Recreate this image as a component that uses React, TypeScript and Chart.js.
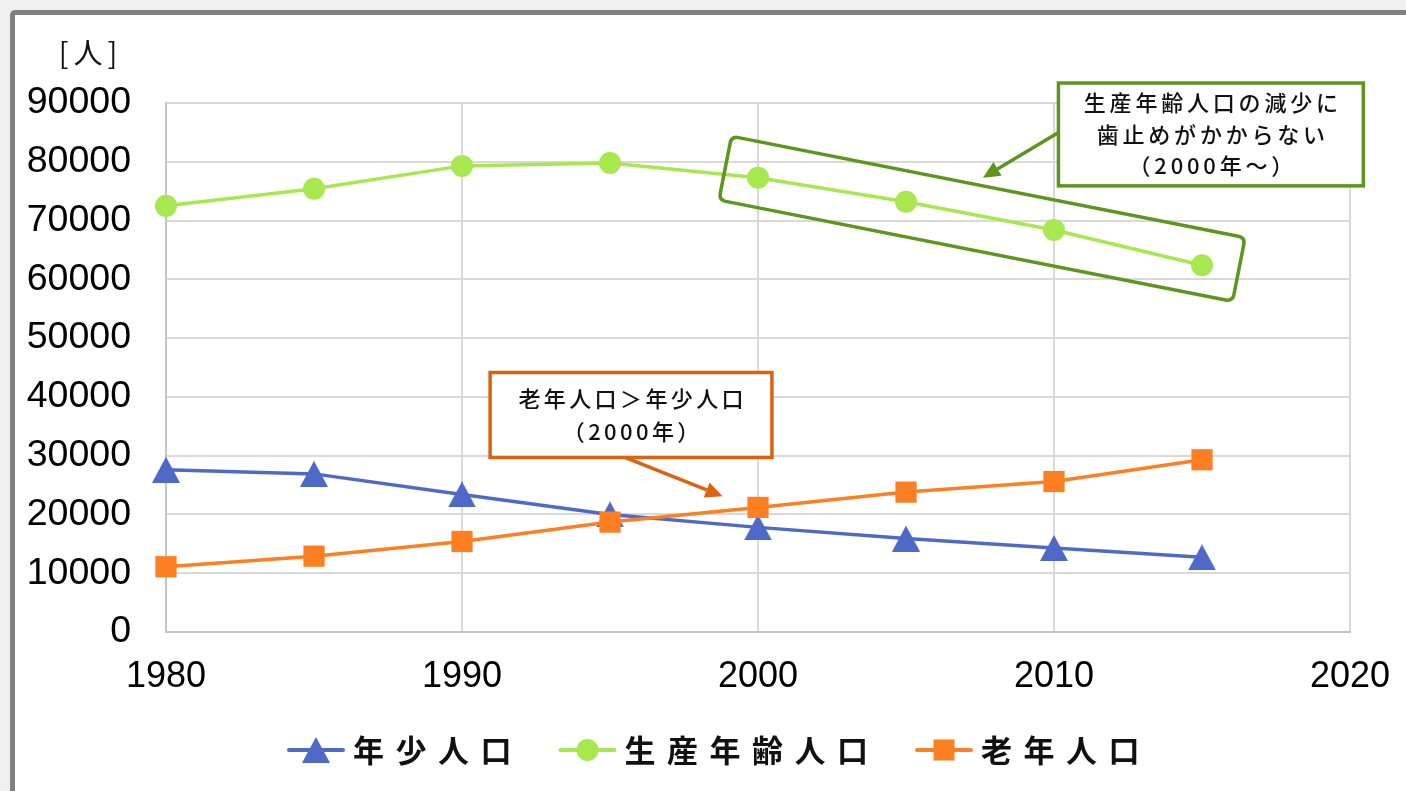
import React, { useEffect, useRef } from "react";
import { Chart, registerables } from "chart.js";
Chart.register(...registerables);

const years = [1980, 1985, 1990, 1995, 2000, 2005, 2010, 2015];
const youth = [27600, 26900, 23400, 20000, 17800, 15900, 14300, 12700];
const working = [72500, 75400, 79300, 79800, 77300, 73200, 68400, 62400];
const elderly = [11100, 12900, 15400, 18700, 21200, 23800, 25600, 29300];
const seriesNames = ["年少人口", "生産年齢人口", "老年人口"];
const seriesColors = ["#4f69c9", "#a7e84f", "#fd7f21"];
const xMin = 1980;
const xMax = 2020;
const xStep = 10;
const yMin = 0;
const yMax = 90000;
const yStep = 10000;
const yUnit = "[人]";
const noteGreen = ["生産年齢人口の減少に", "歯止めがかからない", "（2000年～）"];
const noteOrange = ["老年人口＞年少人口", "（2000年）"];
// annotation anchors in data space
const greenBox = { x0: 2010.15, x1: 2020.45, y0: 93400, y1: 75900 };
const greenArrow = { x0: 2010.15, y0: 85000, x1: 2007.6, y1: 77300 };
const orangeBox = { x0: 1990.95, x1: 2000.47, y0: 44150, y1: 29700 };
const orangeArrow = { x0: 1995.5, y0: 29700, x1: 1998.8, y1: 23100 };
const highlightFrom = 2000;

const GREEN_NOTE = "#5e961c";
const ORANGE_NOTE = "#dd6210";
const JP = '"Noto Sans CJK JP", "Noto Sans", sans-serif';
const NUM = '"Liberation Sans", Arial, sans-serif';

function makeTriangle(color: string, w: number, h: number) {
  const c = document.createElement("canvas");
  c.width = w;
  c.height = h;
  const g = c.getContext("2d")!;
  g.fillStyle = color;
  g.beginPath();
  g.moveTo(w / 2, 0);
  g.lineTo(w, h);
  g.lineTo(0, h);
  g.closePath();
  g.fill();
  return c;
}

function roundRectPath(ctx: CanvasRenderingContext2D, x: number, y: number, w: number, h: number, r: number) {
  ctx.beginPath();
  ctx.moveTo(x + r, y);
  ctx.lineTo(x + w - r, y);
  ctx.quadraticCurveTo(x + w, y, x + w, y + r);
  ctx.lineTo(x + w, y + h - r);
  ctx.quadraticCurveTo(x + w, y + h, x + w - r, y + h);
  ctx.lineTo(x + r, y + h);
  ctx.quadraticCurveTo(x, y + h, x, y + h - r);
  ctx.lineTo(x, y + r);
  ctx.quadraticCurveTo(x, y, x + r, y);
  ctx.closePath();
}

function arrow(ctx: CanvasRenderingContext2D, x0: number, y0: number, x1: number, y1: number, color: string) {
  const ang = Math.atan2(y1 - y0, x1 - x0);
  const hl = 17, hw = 8;
  const bx = x1 - Math.cos(ang) * hl, by = y1 - Math.sin(ang) * hl;
  ctx.strokeStyle = color;
  ctx.fillStyle = color;
  ctx.lineWidth = 3.5;
  ctx.beginPath();
  ctx.moveTo(x0, y0);
  ctx.lineTo(bx, by);
  ctx.stroke();
  ctx.beginPath();
  ctx.moveTo(x1, y1);
  ctx.lineTo(bx + Math.sin(ang) * hw, by - Math.cos(ang) * hw);
  ctx.lineTo(bx - Math.sin(ang) * hw, by + Math.cos(ang) * hw);
  ctx.closePath();
  ctx.fill();
}

function spacedText(ctx: CanvasRenderingContext2D, text: string, cx: number, cy: number, spacing: number) {
  (ctx as any).letterSpacing = spacing + "px";
  const w = ctx.measureText(text).width;
  ctx.textAlign = "left";
  ctx.textBaseline = "middle";
  ctx.fillText(text, cx - (w - spacing) / 2, cy);
  (ctx as any).letterSpacing = "0px";
}

export default function App() {
  const ref = useRef<HTMLCanvasElement>(null);
  useEffect(() => {
    const tri = makeTriangle(seriesColors[0], 28, 26);
    const styles: any[] = [tri, "circle", "rect"];
    const radii = [14, 11, 15];

    const annotPlugin = {
      id: "annot",
      afterDatasetsDraw(chart: any) {
        const { ctx, scales } = chart;
        const px = (v: number) => scales.x.getPixelForValue(v);
        const py = (v: number) => scales.y.getPixelForValue(v);
        ctx.save();
        // rotated highlight frame around working-age 2000..2015
        const i0 = years.indexOf(highlightFrom);
        const i1 = years.length - 1;
        const ax = px(years[i0]), ay = py(working[i0]);
        const bx = px(years[i1]), by = py(working[i1]);
        const len = Math.hypot(bx - ax, by - ay);
        const ang = Math.atan2(by - ay, bx - ax);
        ctx.save();
        ctx.translate(ax, ay);
        ctx.rotate(ang);
        roundRectPath(ctx, -34, -35.5, len + 34 + 37, 65, 7);
        ctx.strokeStyle = GREEN_NOTE;
        ctx.lineWidth = 3.5;
        ctx.stroke();
        ctx.restore();

        // green callout
        arrow(ctx, px(greenArrow.x0), py(greenArrow.y0), px(greenArrow.x1), py(greenArrow.y1), GREEN_NOTE);
        {
          const x0 = px(greenBox.x0), x1 = px(greenBox.x1), y0 = py(greenBox.y0), y1 = py(greenBox.y1);
          ctx.fillStyle = "#ffffff";
          ctx.fillRect(x0, y0, x1 - x0, y1 - y0);
          ctx.strokeStyle = GREEN_NOTE;
          ctx.lineWidth = 3.5;
          ctx.strokeRect(x0, y0, x1 - x0, y1 - y0);
          ctx.fillStyle = "#111";
          ctx.font = `500 22px ${JP}`;
          const cx = (x0 + x1) / 2, cy = (y0 + y1) / 2;
          const lh = 31.5;
          noteGreen.forEach((t, i) => spacedText(ctx, t, cx, cy + (i - (noteGreen.length - 1) / 2) * lh, 3.8));
        }
        // orange callout
        arrow(ctx, px(orangeArrow.x0), py(orangeArrow.y0), px(orangeArrow.x1), py(orangeArrow.y1), ORANGE_NOTE);
        {
          const x0 = px(orangeBox.x0), x1 = px(orangeBox.x1), y0 = py(orangeBox.y0), y1 = py(orangeBox.y1);
          ctx.fillStyle = "#ffffff";
          ctx.fillRect(x0, y0, x1 - x0, y1 - y0);
          ctx.strokeStyle = ORANGE_NOTE;
          ctx.lineWidth = 3.5;
          ctx.strokeRect(x0, y0, x1 - x0, y1 - y0);
          ctx.fillStyle = "#111";
          ctx.font = `500 22px ${JP}`;
          const cx = (x0 + x1) / 2, cy = (y0 + y1) / 2;
          const lh = 33;
          noteOrange.forEach((t, i) => spacedText(ctx, t, cx, cy + (i - (noteOrange.length - 1) / 2) * lh, 3.4));
        }
        ctx.restore();
      },
      afterDraw(chart: any) {
        const { ctx, chartArea } = chart;
        ctx.save();
        // y unit label
        ctx.fillStyle = "#111";
        ctx.font = `400 29px ${JP}`;
        spacedText(ctx, yUnit, chartArea.left - 78, chartArea.top - 50, 5);
        // legend
        const ly = 750;
        let x = 289;
        const lineW = 54;
        ctx.font = `700 31px ${JP}`;
        seriesNames.forEach((name, i) => {
          ctx.strokeStyle = seriesColors[i];
          ctx.lineWidth = 4;
          ctx.lineCap = "round";
          ctx.beginPath();
          ctx.moveTo(x, ly);
          ctx.lineTo(x + lineW, ly);
          ctx.stroke();
          const mx = x + lineW / 2;
          ctx.fillStyle = seriesColors[i];
          if (i === 0) {
            ctx.drawImage(tri, mx - tri.width / 2, ly - tri.height / 2);
          } else if (i === 1) {
            ctx.beginPath();
            ctx.arc(mx, ly, 11, 0, Math.PI * 2);
            ctx.fill();
          } else {
            ctx.fillRect(mx - 10.5, ly - 10.5, 21, 21);
          }
          ctx.fillStyle = "#111";
          (ctx as any).letterSpacing = "11.5px";
          ctx.textAlign = "left";
          ctx.textBaseline = "middle";
          const tx = x + lineW + 10;
          ctx.fillText(name, tx, ly);
          const w = ctx.measureText(name).width;
          (ctx as any).letterSpacing = "0px";
          x = tx + w - 11.5 + 49;
        });
        ctx.restore();
      },
    };

    const mk = (data: number[]) => years.map((yr, i) => ({ x: yr, y: data[i] }));
    const all = [youth, working, elderly];
    const chart = new Chart(ref.current!, {
      type: "line",
      data: {
        datasets: all.map((d, i) => ({
          label: seriesNames[i],
          data: mk(d),
          borderColor: seriesColors[i],
          backgroundColor: seriesColors[i],
          borderWidth: 3.5,
          pointStyle: styles[i],
          pointRadius: radii[i],
          pointHoverRadius: radii[i],
          pointBorderWidth: 0,
          pointBackgroundColor: seriesColors[i],
          pointBorderColor: seriesColors[i],
          tension: 0,
          clip: false as any,
          order: 2 - i,
        })),
      },
      options: {
        animation: false,
        responsive: false,
        devicePixelRatio: 1,
        events: [],
        layout: { padding: { left: 0, right: 56, top: 103, bottom: 0 } },
        plugins: { legend: { display: false }, tooltip: { enabled: false }, title: { display: false } },
        scales: {
          x: {
            type: "linear",
            min: xMin,
            max: xMax,
            ticks: { stepSize: xStep, padding: 23, color: "#000", font: { family: NUM, size: 36 }, callback: (v: any) => String(v), maxRotation: 0 },
            grid: { color: "#d9d9d9", lineWidth: 2, drawTicks: false },
            border: { color: "#c4c4c4", width: 2 },
            afterFit: (s: any) => {
              s.height = 159;
              s.paddingLeft = 0;
              s.paddingRight = 0;
            },
          },
          y: {
            min: yMin,
            max: yMax,
            ticks: { stepSize: yStep, padding: 35, color: "#000", font: { family: NUM, size: 37.5 }, callback: (v: any) => String(v) },
            grid: { color: "#d9d9d9", lineWidth: 2, drawTicks: false },
            border: { color: "#c4c4c4", width: 2 },
            afterFit: (s: any) => {
              s.width = 166;
              s.paddingTop = 0;
              s.paddingBottom = 0;
            },
          },
        },
      },
      plugins: [annotPlugin],
    } as any);
    return () => chart.destroy();
  }, []);

  return (
    <div style={{ position: "fixed", left: 0, top: 0, width: 1406, height: 791, background: "#f0f0f0", overflow: "hidden" }}>
      <div
        style={{
          position: "absolute",
          left: 10,
          top: 10,
          width: 1420,
          height: 820,
          border: "5px solid #808080",
          borderRadius: 5,
          background: "#ffffff",
        }}
      />
      <canvas ref={ref} width={1406} height={791} style={{ position: "absolute", left: 0, top: 0, width: 1406, height: 791 }} />
    </div>
  );
}
